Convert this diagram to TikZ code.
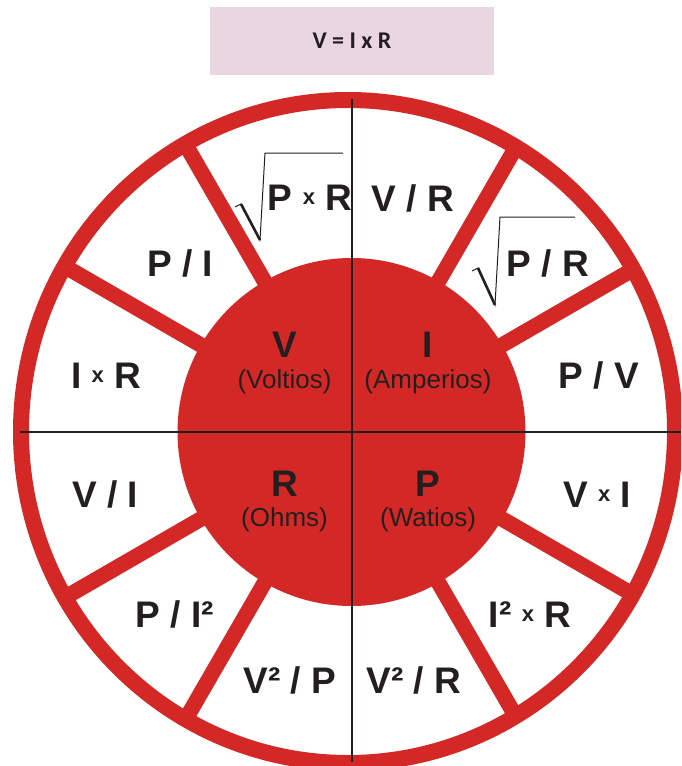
\documentclass[tikz,border=0pt]{standalone}
\usepackage{fontspec}
\usetikzlibrary{calc}
\setmainfont{Liberation Sans}
\newfontfamily\titlefont{Carlito}
\definecolor{ringred}{RGB}{212,40,38}
\definecolor{titlebg}{RGB}{234,214,225}
\definecolor{linegray}{RGB}{35,31,32}
\newcommand\smx{\raisebox{6pt}{\fontsize{22}{22}\selectfont x}}
\begin{document}
\begin{tikzpicture}[x=1pt,y=-1pt,
  lab/.style={font=\fontsize{37}{37}\selectfont\bfseries, anchor=base, inner sep=0pt, text=linegray},
  sublab/.style={font=\fontsize{26}{26}\selectfont, anchor=base, inner sep=0pt, text=linegray},
  axis/.style={draw=linegray, line width=1.1pt},
  spoke/.style={draw=ringred, line width=15.5pt},
  radthin/.style={draw=linegray, line width=1pt, line join=miter},
  radthick/.style={draw=linegray, line width=2.6pt}]
\useasboundingbox (0,0) rectangle (681,766);
\begin{scope}
\clip (0,0) rectangle (681,766);
% title
\fill[titlebg] (210,7) rectangle (494,75);
\node[font=\titlefont\fontsize{24}{24}\selectfont\bfseries, text=linegray, anchor=base] (title) at (352,48) {V = I x R};
% geometry
\coordinate (O) at (351.5,432);
\foreach \a in {30,60,120,150,210,240,300,330}
  \draw[spoke] ($(O)+(\a:160pt)$) -- ($(O)+(\a:332pt)$);
\draw[ringred, line width=16pt] (348,431.5) ellipse [x radius=327pt, y radius=331.5pt];
\fill[ringred] (O) circle [radius=174pt];
% axes
\coordinate (hl) at (20,432); \coordinate (hr) at (681,432);
\coordinate (vt) at (352,99); \coordinate (vb) at (352,762);
\draw[axis] (hl) -- (hr);
\draw[axis] (vt) -- (vb);
% radicals
\draw[radthin] (235,207) -- (241,204) -- (260,240) -- (265,153) -- (343,153);
\draw[radthick] (241,204) -- (260,240);
\draw[radthin] (472,271) -- (478,268) -- (495,305) -- (500,217) -- (575,217);
\draw[radthick] (478,268) -- (495,305);
% outer labels
\node[lab] (pxr) at (310,210) {P \smx{} R};
\node[lab] (vr) at (413,211) {V / R};
\node[lab] (pi) at (180,276) {P / I};
\node[lab] (pr) at (548,276) {P / R};
\node[lab] (ixr) at (106,388) {I \smx{} R};
\node[lab] (pv) at (599,388) {P / V};
\node[lab] (vi) at (105,507) {V / I};
\node[lab] (vxi) at (597,507) {V \smx{} I};
\node[lab] (pi2) at (175,627) {P / I²};
\node[lab] (i2r) at (530,627) {I² \smx{} R};
\node[lab] (v2p) at (290,693) {V² / P};
\node[lab] (v2r) at (414,693) {V² / R};
% inner labels
\node[lab] (V) at (284.5,357) {V};
\node[sublab] (volt) at (284.5,388) {(Voltios)};
\node[lab] (I) at (428,357) {I};
\node[sublab] (amp) at (428,388) {(Amperios)};
\node[lab] (R) at (284.5,496) {R};
\node[sublab] (ohm) at (284.5,526) {(Ohms)};
\node[lab] (P) at (428,496) {P};
\node[sublab] (wat) at (428,526) {(Watios)};
\end{scope}
\end{tikzpicture}
\end{document}
